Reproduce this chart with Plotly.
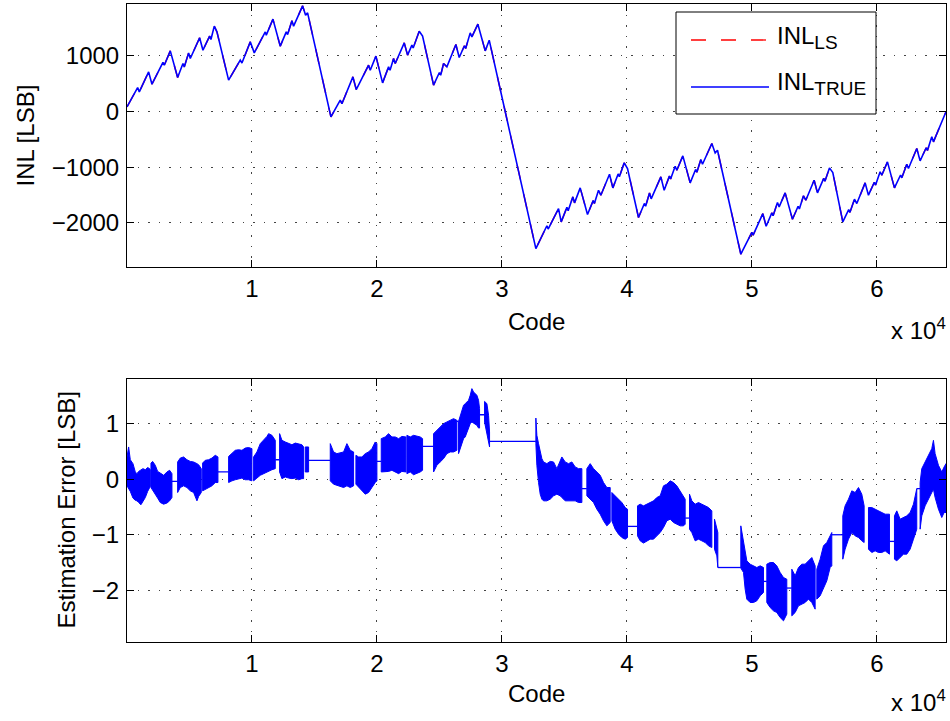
import plotly.graph_objects as go

# ---------------- data ----------------
# Top panel: INL [LSB] versus code (vertices of the curve)
inl_code = [0, 851, 984, 1731, 1997, 2878, 2984, 3464, 4051, 4478, 4584, 4931, 5064, 5811, 6077,
            6611, 6717, 6984, 7197, 8131, 9064, 9197, 9864, 10184, 11064, 11144, 11677, 12264,
            12744, 12850, 13197, 13331, 14051, 14291, 14451, 16317, 17064, 17197, 18077, 18344,
            19331, 19464, 19917, 20451, 20931, 21050, 21331, 21464, 22184, 22451, 22797, 22900,
            23384, 23651, 24531, 24997, 25100, 25331, 25597, 26317, 26584, 27000, 27100, 27464,
            27597, 28077, 28664, 28984, 32717, 33600, 33700, 34530, 34744, 35200, 35300, 35677,
            35810, 36264, 36850, 37300, 37400, 37730, 37917, 38610, 38877, 39300, 39400, 39784,
            40050, 40930, 41400, 41500, 41810, 41944, 42717, 42984, 43400, 43500, 43864, 43997,
            44477, 45064, 45500, 45600, 45917, 46050, 46797, 47064, 47250, 49117, 50000, 50100,
            50877, 51144, 51600, 51700, 52050, 52184, 52664, 53250, 53700, 53800, 54130, 54317,
            54984, 55250, 55750, 55850, 56210, 56477, 57277, 57750, 57850, 58210, 58397, 59064,
            59330, 59800, 59900, 60264, 60397, 60850, 61410, 61900, 62000, 62397, 62530, 63197,
            63464, 63950, 64050, 64397, 64530, 65535]
inl_true = [83, 430, 352, 711, 490, 880, 830, 1088, 610, 860, 800, 1052, 951, 1322, 1100,
            1352, 1292, 1531, 1429, 562, 921, 870, 1250, 1052, 1429, 1370, 1657, 1172,
            1429, 1380, 1627, 1531, 1896, 1729, 1770, -96, 203, 140, 622, 394,
            831, 741, 993, 514, 801, 740, 951, 861, 1232, 1011, 1190, 1140,
            1441, 1352, 472, 700, 650, 861, 801, 1202, 969, 1180, 1130, 1411,
            1340, 1567, 1088, 1280, -2460, -2050, -2110, -1742, -1981, -1720, -1780, -1532,
            -1640, -1371, -1849, -1600, -1650, -1413, -1502, -1125, -1371, -1120, -1170, -922,
            -1024, -1903, -1650, -1700, -1461, -1568, -1173, -1413, -1160, -1210, -982, -1054,
            -796, -1281, -1040, -1090, -862, -946, -575, -743, -695, -2561, -2170, -2220,
            -1832, -2059, -1820, -1870, -1634, -1712, -1461, -1933, -1700, -1750, -1514, -1592,
            -1233, -1461, -1200, -1250, -1012, -1095, -1981, -1760, -1810, -1574, -1652, -1281,
            -1502, -1270, -1320, -1083, -1143, -904, -1371, -1140, -1190, -946, -1024, -665,
            -886, -650, -700, -455, -545, -5]
# the least-squares estimate lies on top of the true INL at this scale
inl_ls = list(inl_true)

# Bottom panel: estimation error [LSB]; dense noise drawn as bands (upper / lower envelope),
# bands separated by None
err_band_code = [
    0, 131, 264, 477, 664, 797, 931, 1117, 1277, 1464, 1651, 1811, 1864, None,
    1917, 2051, 2264, 2451, 2664, 2931, 3197, 3411, 3597, None,
    4051, 4264, 4531, 4797, 5064, 5331, 5597, 5731, 5944, None,
    6051, 6264, 6531, 6797, 7064, 7277, None,
    8131, 8397, 8664, 8931, 9197, 9464, 9731, 9997, None,
    10131, 10397, 10664, 10931, 11197, 11331, 11597, 11864, None,
    12211, 12397, 12664, 12931, 13197, 13464, 13731, 13997, 14131, None,
    14264, 14531, None,
    16264, 16531, 16797, 17064, 17331, 17597, 17864, 18131, None,
    18317, 18531, 18797, 19064, 19331, 19597, 19864, 19997, None,
    20344, 20664, 20931, 21197, 21464, 21731, 21997, 22317, None,
    22397, 22664, 22931, 23197, 23464, 23651, None,
    24531, 24797, 25064, 25331, 25597, 25864, 26131, 26397, None,
    26531, 26797, 26931, 27064, 27331, 27464, 27597, 27731, 27997, 28131, 28211, None,
    28611, 28797, 28931, 29011, None,
    32717, 32797, 32931, 33064, 33197, 33331, 33597, 33864, 34131, 34397, 34664, 34797,
    35064, 35331, 35597, 35864, 36131, 36397, None,
    36797, 37064, 37331, 37597, 37864, 38131, 38397, 38664, None,
    38797, 39064, 39331, 39597, 39864, 40051, None,
    40851, 41064, 41331, 41597, 41864, 42131, 42397, 42664, 42931, 43197, 43464, 43731,
    43997, 44264, 44531, 44664, None,
    45011, 45197, 45464, 45731, 45997, 46264, 46531, 46797, None,
    47011, 47197, 47277, None,
    49117, 49331, 49464, 49597, 49864, 50131, 50397, 50664, 50931, None,
    51197, 51464, 51731, 51997, 52264, 52531, 52797, None,
    53197, 53464, 53731, 53997, 54264, 54531, 54797, 55064, None,
    55197, 55464, 55731, 55997, 56264, 56397, None,
    57277, 57464, 57731, 57997, 58264, 58531, 58797, 58984, None,
    59331, 59597, 59864, 60131, 60397, 60664, 61011, None,
    61411, 61597, 61864, 62131, 62397, 62664, 62931, 63197, None,
    63464, 63597, 63864, 64131, 64397, 64531, 64664, 64931, 65197, 65384, 65535]
err_band_hi = [
    0.40, 0.58, 0.35, 0.28, 0.13, 0.10, 0.14, 0.17, 0.19, 0.17, 0.21, 0.19, 0.17, None,
    0.29, 0.32, 0.25, 0.14, 0.11, 0.07, 0.13, 0.16, 0.10, None,
    0.31, 0.38, 0.40, 0.35, 0.32, 0.31, 0.28, 0.26, 0.19, None,
    0.29, 0.34, 0.35, 0.38, 0.43, 0.40, None,
    0.41, 0.47, 0.52, 0.53, 0.52, 0.56, 0.57, 0.55, None,
    0.40, 0.49, 0.64, 0.70, 0.77, 0.82, 0.79, 0.70, None,
    0.82, 0.70, 0.67, 0.64, 0.62, 0.65, 0.64, 0.62, 0.58, None,
    0.58, 0.58, None,
    0.64, 0.49, 0.46, 0.47, 0.49, 0.64, 0.52, 0.49, None,
    0.43, 0.40, 0.40, 0.46, 0.49, 0.55, 0.67, 0.64, None,
    0.73, 0.76, 0.82, 0.76, 0.76, 0.73, 0.77, 0.76, None,
    0.79, 0.76, 0.79, 0.77, 0.76, 0.73, None,
    0.82, 0.88, 0.94, 1.00, 1.03, 1.06, 1.09, 1.06, None,
    1.04, 1.21, 1.33, 1.36, 1.42, 1.51, 1.63, 1.57, 1.51, 1.42, 1.27, None,
    1.40, 1.36, 1.15, 0.85, None,
    1.10, 0.79, 0.64, 0.49, 0.37, 0.31, 0.28, 0.32, 0.31, 0.19, 0.35, 0.40,
    0.31, 0.28, 0.31, 0.22, 0.19, 0.19, None,
    0.19, 0.28, 0.19, 0.13, 0.07, -0.06, -0.15, -0.15, None,
    -0.24, -0.30, -0.36, -0.42, -0.51, -0.54, None,
    -0.48, -0.45, -0.48, -0.45, -0.42, -0.39, -0.33, -0.30, -0.12, -0.09, -0.03, -0.06,
    -0.12, -0.21, -0.30, -0.36, None,
    -0.27, -0.39, -0.45, -0.42, -0.45, -0.48, -0.51, -0.57, None,
    -0.72, -0.90, -0.96, None,
    -0.84, -1.14, -1.35, -1.47, -1.53, -1.56, -1.59, -1.56, -1.59, None,
    -1.53, -1.50, -1.50, -1.56, -1.68, -1.77, -1.80, None,
    -1.62, -1.74, -1.59, -1.53, -1.53, -1.47, -1.41, -1.56, None,
    -1.62, -1.44, -1.20, -1.14, -1.02, -0.96, None,
    -0.66, -0.48, -0.36, -0.21, -0.24, -0.15, -0.27, -0.48, None,
    -0.51, -0.51, -0.54, -0.57, -0.60, -0.63, -0.63, None,
    -0.66, -0.57, -0.72, -0.69, -0.66, -0.60, -0.45, -0.17, None,
    -0.06, 0.19, 0.31, 0.43, 0.55, 0.70, 0.46, 0.25, 0.13, 0.22, 0.28]
err_band_lo = [
    -0.12, -0.16, -0.22, -0.34, -0.38, -0.39, -0.42, -0.46, -0.39, -0.33, -0.22, -0.15, -0.13, None,
    -0.15, -0.21, -0.27, -0.34, -0.42, -0.45, -0.43, -0.39, -0.33, None,
    -0.24, -0.15, -0.12, -0.15, -0.21, -0.24, -0.39, -0.31, -0.24, None,
    -0.21, -0.18, -0.15, -0.12, -0.06, -0.06, None,
    -0.06, -0.03, -0.01, 0.01, 0.02, -0.01, -0.01, -0.03, None,
    -0.03, 0.02, 0.07, 0.10, 0.13, 0.14, 0.17, 0.19, None,
    0.13, 0.01, 0.04, 0.02, 0.01, 0.02, -0.01, 0.01, 0.01, None,
    0.13, 0.13, None,
    -0.03, -0.09, -0.12, -0.13, -0.15, -0.12, -0.15, -0.12, None,
    -0.09, -0.15, -0.21, -0.27, -0.24, -0.15, -0.06, -0.03, None,
    0.13, 0.13, 0.14, 0.16, 0.13, 0.10, 0.14, 0.13, None,
    0.10, 0.13, 0.08, 0.10, 0.13, 0.16, None,
    0.13, 0.25, 0.31, 0.37, 0.46, 0.49, 0.49, 0.52, None,
    0.46, 0.64, 0.73, 0.76, 0.91, 1.00, 1.03, 1.00, 0.97, 0.92, 0.92, None,
    1.03, 0.79, 0.67, 0.58, None,
    0.64, 0.25, -0.06, -0.27, -0.36, -0.39, -0.39, -0.36, -0.30, -0.27, -0.30, -0.33,
    -0.39, -0.39, -0.39, -0.39, -0.42, -0.42, None,
    -0.30, -0.36, -0.42, -0.54, -0.63, -0.75, -0.84, -0.78, None,
    -0.75, -0.90, -0.99, -1.05, -1.08, -1.05, None,
    -1.02, -1.11, -1.15, -1.11, -1.08, -1.08, -1.02, -0.96, -0.87, -0.75, -0.72, -0.78,
    -0.81, -0.84, -0.84, -0.81, None,
    -0.90, -0.96, -1.11, -1.08, -1.11, -1.14, -1.20, -1.23, None,
    -1.26, -1.38, -1.59, None,
    -1.60, -1.68, -1.98, -2.16, -2.22, -2.22, -2.19, -2.10, -2.04, None,
    -2.22, -2.31, -2.37, -2.40, -2.49, -2.55, -2.43, None,
    -2.46, -2.40, -2.28, -2.25, -2.22, -2.16, -2.22, -2.34, None,
    -2.16, -2.10, -1.98, -1.83, -1.59, -1.56, None,
    -1.44, -1.26, -1.08, -0.96, -1.02, -1.05, -1.11, -1.14, None,
    -1.26, -1.32, -1.29, -1.32, -1.32, -1.29, -1.35, None,
    -1.44, -1.47, -1.41, -1.35, -1.35, -1.26, -1.08, -0.90, None,
    -0.90, -0.66, -0.48, -0.36, -0.24, -0.18, -0.33, -0.54, -0.69, -0.60, -0.60]
# flat stretches of the error curve between the noisy groups
err_flat_code = [3597, 4051, None, 7277, 8131, None, 11864, 12211, None, 14531, 16264, None,
                 19997, 20344, None, 23651, 24531, None, 26397, 26531, None, 28211, 28611, None,
                 29011, 32717, None, 36397, 36797, None, 40051, 40851, None, 44664, 45011, None,
                 47277, 49117, None, 50931, 51197, None, 52797, 53197, None, 56397, 57277, None,
                 61011, 61411, None, 63197, 63464]
err_flat_val = [-0.04, -0.04, None, 0.13, 0.13, None, 0.35, 0.35, None, 0.34, 0.34, None,
                0.32, 0.32, None, 0.59, 0.59, None, 1.04, 1.04, None, 1.16, 1.16, None,
                0.68, 0.68, None, -0.17, -0.17, None, -0.85, -0.85, None, -0.70, -0.70, None,
                -1.59, -1.59, None, -1.84, -1.84, None, -1.96, -1.96, None, -1.00, -1.00, None,
                -1.12, -1.12, None, -0.17, -0.17]

x_tickvals = [10000, 20000, 30000, 40000, 50000, 60000]
x_ticktext = ["1", "2", "3", "4", "5", "6"]
y1_tickvals = [-2000, -1000, 0, 1000]
y1_ticktext = ["\u22122000", "\u22121000", "0", "1000"]
y2_tickvals = [-2, -1, 0, 1]
y2_ticktext = ["\u22122", "\u22121", "0", "1"]

# ---------------- build band polygons ----------------
poly_x, poly_y = [], []
seg_c, seg_h, seg_l = [], [], []
for c, h, l in list(zip(err_band_code, err_band_hi, err_band_lo)) + [(None, None, None)]:
    if c is None:
        if seg_c:
            poly_x += seg_c + seg_c[::-1] + [seg_c[0], None]
            poly_y += seg_h + seg_l[::-1] + [seg_h[0], None]
        seg_c, seg_h, seg_l = [], [], []
    else:
        seg_c.append(c); seg_h.append(h); seg_l.append(l)

FONT = "Liberation Sans, Arial, Helvetica, sans-serif"
FS = 24
BLUE = "#0000ff"
RED = "#ff0000"

fig = go.Figure()
fig.add_trace(go.Scatter(x=inl_code, y=inl_ls, mode="lines", name="INL<sub>LS</sub>",
                         line=dict(color=RED, width=1.4, dash="15px,15px"),
                         xaxis="x", yaxis="y"))
fig.add_trace(go.Scatter(x=inl_code, y=inl_true, mode="lines", name="INL<sub>TRUE</sub>",
                         line=dict(color=BLUE, width=1.6), xaxis="x", yaxis="y"))
fig.add_trace(go.Scatter(x=poly_x, y=poly_y, mode="lines", fill="toself", fillcolor=BLUE,
                         line=dict(color=BLUE, width=1), name="error",
                         xaxis="x2", yaxis="y2"))
fig.add_trace(go.Scatter(x=err_flat_code, y=err_flat_val, mode="lines", name="error flat",
                         line=dict(color=BLUE, width=1.3), connectgaps=False,
                         xaxis="x2", yaxis="y2"))

axis_style = dict(showline=True, linecolor="black", linewidth=1, mirror="ticks",
                  ticks="inside", ticklen=7, tickwidth=1, tickcolor="black",
                  showgrid=True, gridcolor="#444444", gridwidth=1, griddash="1.5px,9px",
                  zeroline=False, tickfont=dict(family=FONT, size=FS, color="black"))

top_lo = 0.5873
bot_hi = 0.4127
fig.update_layout(
    width=950, height=721, autosize=False,
    margin=dict(l=127, r=4, t=4, b=79),
    paper_bgcolor="white", plot_bgcolor="white",
    showlegend=False,
    xaxis=dict(domain=[0, 1], anchor="y", range=[0, 65535], tickvals=x_tickvals,
               ticktext=x_ticktext, ticklabelstandoff=0, **axis_style),
    yaxis=dict(domain=[top_lo, 1], anchor="x", range=[-2796, 1929], tickvals=y1_tickvals,
               ticktext=y1_ticktext, ticklabelstandoff=2, **axis_style),
    xaxis2=dict(domain=[0, 1], anchor="y2", range=[0, 65535], tickvals=x_tickvals,
                ticktext=x_ticktext, ticklabelstandoff=0, **axis_style),
    yaxis2=dict(domain=[0, bot_hi], anchor="x2", range=[-2.931, 1.809], tickvals=y2_tickvals,
                ticktext=y2_ticktext, ticklabelstandoff=2, **axis_style),
)

def px2paper(px, py):
    return (px - 127) / 819.0, (642 - py) / 638.0

ann_font = dict(family=FONT, size=FS, color="black")
annotations = []
x, y = px2paper(25, 135.5)
annotations.append(dict(x=x, y=y, xref="paper", yref="paper", text="INL [LSB]", textangle=-90,
                        showarrow=False, font=ann_font, xanchor="center", yanchor="middle"))
x, y = px2paper(66, 510.5)
annotations.append(dict(x=x, y=y, xref="paper", yref="paper", text="Estimation Error [LSB]",
                        textangle=-90, showarrow=False, font=ann_font,
                        xanchor="center", yanchor="middle"))
for py in (321, 693):
    x, y = px2paper(536, py)
    annotations.append(dict(x=x, y=y, xref="paper", yref="paper", text="Code", showarrow=False,
                            font=ann_font, xanchor="center", yanchor="middle"))
for py in (329, 701):
    x, y = px2paper(948, py)
    annotations.append(dict(x=x, y=y, xref="paper", yref="paper", text="x 10<sup>4</sup>",
                            showarrow=False, font=ann_font, xanchor="right", yanchor="middle"))

# legend box (drawn manually to match the long line samples)
shapes = []
lx0, ly0 = px2paper(676, 114)
lx1, ly1 = px2paper(876, 12)
shapes.append(dict(type="rect", xref="paper", yref="paper", x0=lx0, y0=ly0, x1=lx1, y1=ly1,
                   line=dict(color="black", width=1), fillcolor="white", layer="above"))
sx0, sy_ls = px2paper(691, 40)
sx1, sy_tr = px2paper(769, 87)
shapes.append(dict(type="line", xref="paper", yref="paper", x0=sx0, x1=sx1, y0=sy_ls, y1=sy_ls,
                   line=dict(color=RED, width=1.3, dash="15px,15px"), layer="above"))
shapes.append(dict(type="line", xref="paper", yref="paper", x0=sx0, x1=sx1, y0=sy_tr, y1=sy_tr,
                   line=dict(color=BLUE, width=1.3), layer="above"))
tx, ty = px2paper(775, 38)
annotations.append(dict(x=tx, y=ty, xref="paper", yref="paper",
                        text="INL<sub><span style='font-size:19px'>LS</span></sub>",
                        showarrow=False, font=ann_font, xanchor="left", yanchor="middle"))
tx, ty = px2paper(775, 84)
annotations.append(dict(x=tx, y=ty, xref="paper", yref="paper",
                        text="INL<sub><span style='font-size:19px'>TRUE</span></sub>",
                        showarrow=False, font=ann_font, xanchor="left", yanchor="middle"))

fig.update_layout(annotations=annotations, shapes=shapes)
fig.write_html("out.html")
